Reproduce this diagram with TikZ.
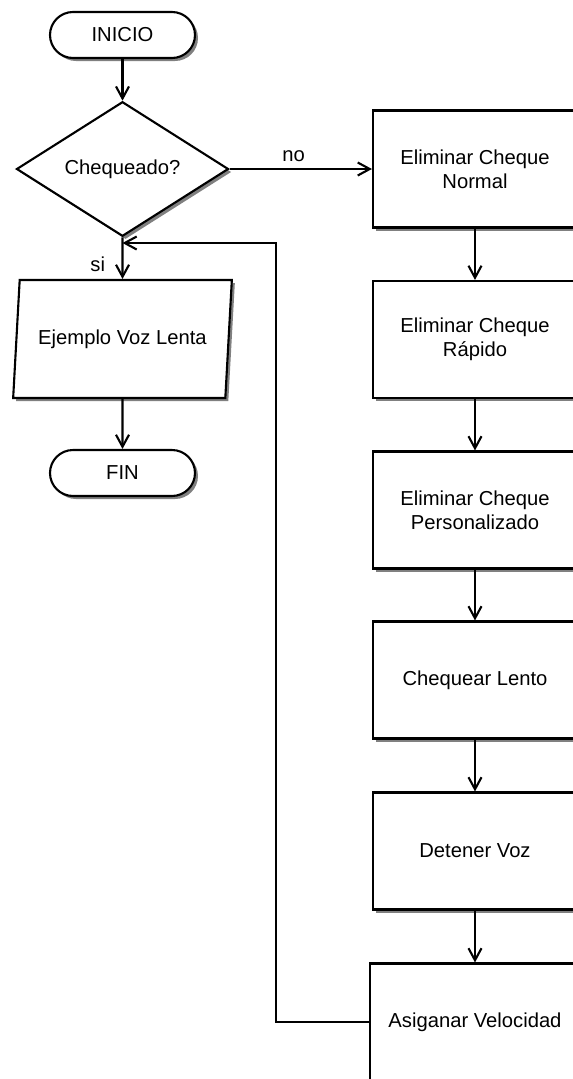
\documentclass[tikz,border=0pt]{standalone}
\usepackage{fontspec}
\setmainfont{Liberation Sans}
\usetikzlibrary{arrows.meta}
\usetikzlibrary{shapes.geometric}
\usetikzlibrary{shadows}

\tikzset{
  flow/.style={draw, line width=1.2pt, fill=white,
    drop shadow={shadow xshift=0.06cm, shadow yshift=-0.06cm, fill=black!50, opacity=1}},
  terminal/.style={flow, rectangle, rounded corners=0.46cm, minimum width=2.9cm, minimum height=0.92cm},
  decision/.style={flow, diamond, minimum width=4.24cm, minimum height=2.34cm, inner sep=0pt},
  inout/.style={flow, trapezium, trapezium left angle=79.4, trapezium right angle=100.6,
    trapezium stretches=true, minimum width=4.38cm, minimum height=2.36cm},
  process/.style={flow, rectangle, minimum width=4.08cm, minimum height=2.34cm, align=center},
  link/.style={line width=1.2pt, -{Straight Barb[length=2.4mm, width=2.6mm]}}
}

\begin{document}
\begin{tikzpicture}[font=\fontsize{11.5}{13.6}\selectfont]
      \useasboundingbox (0,0) rectangle (11.46,-21.58);
      \clip (0,0) rectangle (11.46,-21.58);

      % left column
      \node[terminal] (inicio) at (2.45,-0.70) {INICIO};
      \node[decision] (chequeado) at (2.45,-3.38) {Chequeado?};
      \node[inout] (ejemplo) at (2.45,-6.78) {Ejemplo Voz Lenta};
      \node[terminal] (fin) at (2.45,-9.46) {FIN};

      % right column
      \node[process] (elimnormal) at (9.5,-3.38) {Eliminar Cheque\\Normal};
      \node[process] (elimrapido) at (9.5,-6.79) {Eliminar Cheque\\Rápido};
      \node[process] (elimperso) at (9.5,-10.20) {Eliminar Cheque\\Personalizado};
      \node[process] (lento) at (9.5,-13.60) {Chequear Lento};
      \node[process] (detener) at (9.5,-17.02) {Detener Voz};
      \node[process, minimum width=4.2cm] (asignar) at (9.5,-20.44) {Asiganar Velocidad};

      \coordinate (join) at (2.45,-4.86);

      \draw[link] (inicio) -- (chequeado);
      \draw[link] (chequeado) -- node[left=6pt, pos=0.64] {si} (ejemplo);
      \draw[link] (ejemplo) -- (fin);
      \draw[link] (chequeado) -- node[above, pos=0.45] {no} (elimnormal);

      \draw[link] (elimnormal) -- (elimrapido);
      \draw[link] (elimrapido) -- (elimperso);
      \draw[link] (elimperso) -- (lento);
      \draw[link] (lento) -- (detener);
      \draw[link] (detener) -- (asignar);

      % back to the decision
      \draw[link] (asignar.west) -- ++(-1.86,0) |- (join);

    \end{tikzpicture}
\end{document}
